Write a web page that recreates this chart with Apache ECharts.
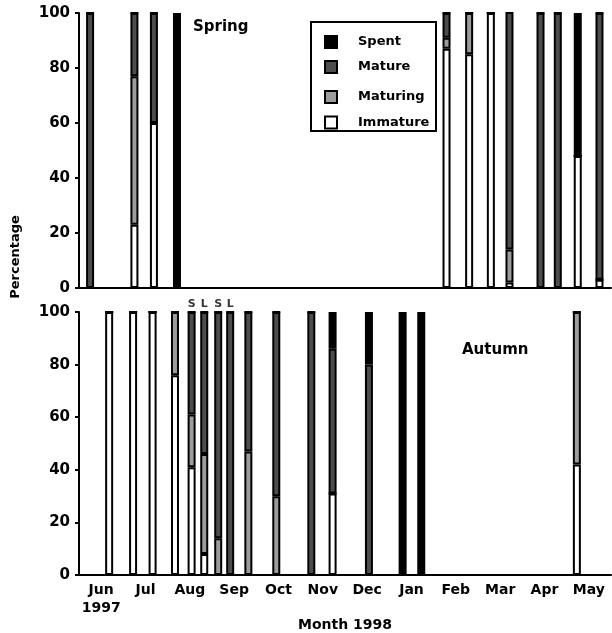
<!DOCTYPE html>
<html><head><meta charset="utf-8">
<script src="https://cdn.jsdelivr.net/npm/echarts@6/dist/echarts.min.js"></script>
<style>html,body{margin:0;padding:0;background:#fff}#c{width:612px;height:633px}</style>
</head><body><div id="c"></div>
<script>
// ---- data ----
const months = ['Jun\n1997','Jul','Aug','Sep','Oct','Nov','Dec','Jan','Feb','Mar','Apr','May'];
const stageNames = ['Immature','Maturing','Mature','Spent'];
const legendOrder = ['Spent','Mature','Maturing','Immature'];

// Spring spawning group: sample positions (months after 1 Jun 1997) and % per stage
const springPos      = [0.25, 1.25, 1.69, 2.21, 8.29, 8.80, 9.29, 9.71, 10.41, 10.80, 11.25, 11.74];
const springImmature = [0,    23,   60,   0,    87,   85,   100,  2,    0,     0,     48,    3];
const springMaturing = [0,    54,   0,    0,    4,    15,   0,    12,   0,     0,     0,     0];
const springMature   = [100,  23,   40,   0,    9,    0,    0,    87,   100,   100,   0,     97];
const springSpent    = [0,    0,    0,    100,  0,    0,    0,    0,    0,     0,     52,    0];

// Autumn spawning group
const autumnPos      = [0.68, 1.22, 1.66, 2.165, 2.54, 2.825, 3.14, 3.41, 3.82, 4.45, 5.24, 5.72, 6.54, 7.30, 7.72, 11.23];
const autumnImmature = [100,  100,  100,  76,    41,   8,     0,    0,    0,    0,    0,    31,   0,    0,    0,    42];
const autumnMaturing = [0,    0,    0,    24,    20,   38,    14,   0,    47,   30,   0,    0,    0,    0,    0,    58];
const autumnMature   = [0,    0,    0,    0,     39,   54,    86,   100,  53,   70,   100,  55,   80,   0,    0,    0];
const autumnSpent    = [0,    0,    0,    0,     0,    0,     0,    0,    0,    0,    0,    14,   20,   100,  100,  0];

// Size-class annotations (S = small, L = large) above autumn samples
const sizeLabels   = ['S', 'L', 'S', 'L'];
const sizeLabelPos = [2.54, 2.825, 3.14, 3.41];

const yMin = 0, yMax = 100, yInterval = 20;

// ---- styling ----
const FONT = 'DejaVu Sans';
const colors = {Immature:'#ffffff', Maturing:'#9c9c9c', Mature:'#4d4d4d', Spent:'#000000'};

function barSeries(name, g, pos, vals) {
  return {
    type:'bar', name, xAxisIndex: g*2+1, yAxisIndex: g, stack: 'grp'+g,
    barWidth: 8, silent: true,
    data: pos.map((p,i)=>[vals[i], p]), encode:{x:1, y:0},
    itemStyle:{color: colors[name], borderColor:'#000', borderWidth:2}
  };
}
const springVals = [springImmature, springMaturing, springMature, springSpent];
const autumnVals = [autumnImmature, autumnMaturing, autumnMature, autumnSpent];

const series = [];
stageNames.forEach((n,i)=>series.push(barSeries(n,0,springPos,springVals[i])));
stageNames.forEach((n,i)=>series.push(barSeries(n,1,autumnPos,autumnVals[i])));
series.push({
  type:'scatter', xAxisIndex:3, yAxisIndex:1, symbolSize:0, silent:true,
  data: sizeLabelPos.map((p,i)=>({value:[p, yMax], name:sizeLabels[i]})),
  label:{show:true, position:'top', distance:2, formatter:'{b}', color:'#000',
         fontFamily:FONT, fontWeight:'bold', fontSize:11}
});

const axisLine = {lineStyle:{color:'#000', width:2}};
const axisTick = {inside:false, length:4, lineStyle:{color:'#000', width:2}};
function catAxis(g, showLabels) {
  return {
    type:'category', gridIndex:g, data:months, boundaryGap:true, position:'bottom',
    axisLine, axisTick:Object.assign({alignWithLabel:false, interval:0}, axisTick),
    axisLabel: showLabels ? {show:true, interval:0, margin:6, color:'#000', fontFamily:FONT,
      fontWeight:'bold', fontSize:14, lineHeight:18} : {show:false},
    splitLine:{show:false},
    name: showLabels ? 'Month 1998' : '', nameLocation:'middle', nameGap:30,
    nameTextStyle:{color:'#000', fontFamily:FONT, fontWeight:'bold', fontSize:14}
  };
}
function valX(g) { return {type:'value', gridIndex:g, min:0, max:12, show:false}; }
function valY(g) {
  return {type:'value', gridIndex:g, min:yMin, max:yMax, interval:yInterval,
    axisLine:Object.assign({show:true}, axisLine), axisTick:Object.assign({show:true}, axisTick),
    splitLine:{show:false},
    axisLabel:{color:'#000', fontFamily:FONT, fontWeight:'bold', fontSize:15, margin:9}};
}

const legends = legendOrder.map((n,i)=>({
  data:[n], left:319, top:[30,55,85,110.5][i], orient:'vertical',
  itemWidth:12, itemHeight:12, icon:'rect', selectedMode:false,
  textStyle:{color:'#000', fontFamily:FONT, fontWeight:'bold', fontSize:13, lineHeight:14, padding:[0,0,0,16]}
}));

const chart = echarts.init(document.getElementById('c'), null, {renderer:'canvas'});
chart.setOption({
  animation:false,
  backgroundColor:'#fff',
  grid:[
    {left:79, right:1, top:13, height:275, containLabel:false},
    {left:79, right:1, top:312, height:273, containLabel:false}
  ],
  xAxis:[catAxis(0,false), valX(0), catAxis(1,true), valX(1)],
  yAxis:[valY(0), valY(1)],
  legend: legends,
  series,
  graphic:[
    {type:'rect', shape:{x:311, y:22, width:125, height:109}, style:{fill:'none', stroke:'#000', lineWidth:2}, z:100},
    {type:'text', x:16, y:257, rotation:Math.PI/2, style:{text:'Percentage', align:'center', verticalAlign:'middle', font:'bold 13px "DejaVu Sans"', fill:'#000'}},
    {type:'text', x:193, y:27, style:{text:'Spring', align:'left', verticalAlign:'middle', font:'bold 15px "DejaVu Sans"', fill:'#000'}},
    {type:'text', x:462, y:350, style:{text:'Autumn', align:'left', verticalAlign:'middle', font:'bold 15px "DejaVu Sans"', fill:'#000'}}
  ]
});
</script></body></html>
